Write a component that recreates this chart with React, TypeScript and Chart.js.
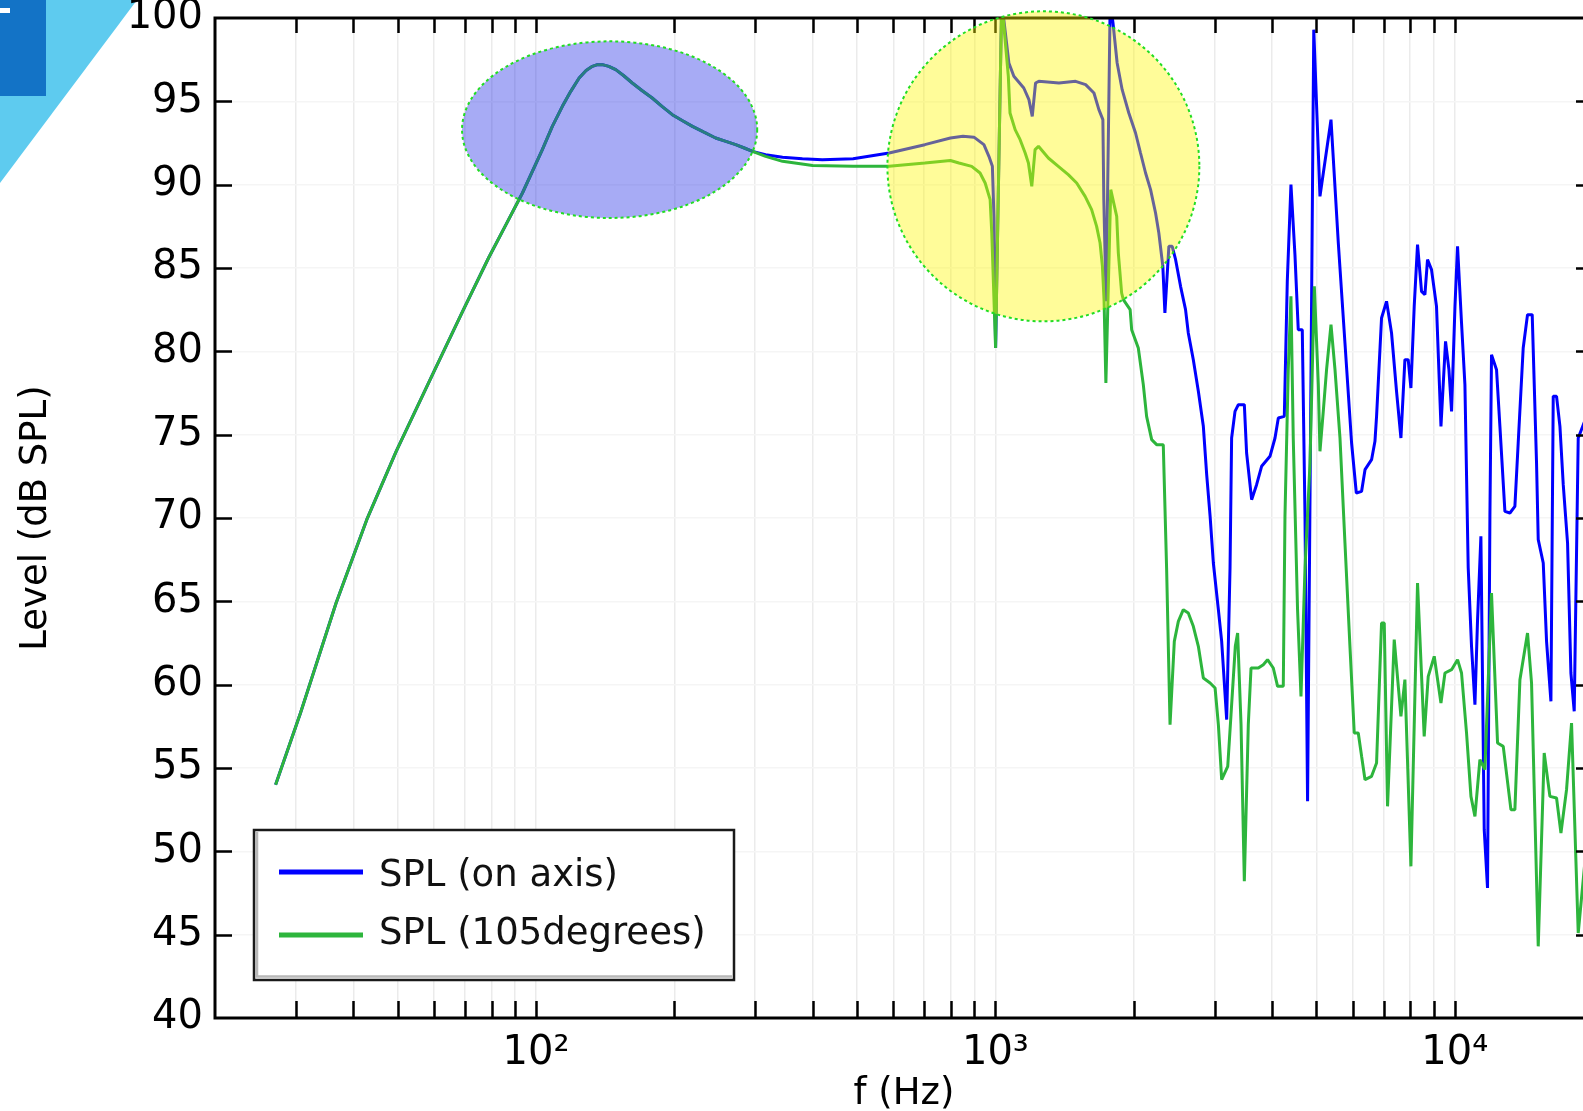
import { useEffect, useRef } from 'react';
import { Chart, registerables } from 'chart.js';

Chart.register(...registerables);

const FONT_FAMILY = '"DejaVu Sans", "Liberation Sans", sans-serif';
const CANVAS_W = 1610;
const CANVAS_H = 1130;

// Low-frequency roll-off and bass peak, shared by both measurement angles
const lowFreq = [27.1, 30.7, 36.7, 42.8, 49.6, 59.5, 69.2, 78.8, 86, 93.4, 103.2, 108.5, 114.1, 119, 124.1, 128.5, 132.6, 136, 139.5, 144, 149.1, 155, 162, 170, 179, 188, 198, 208, 219, 232, 246, 259, 272, 284, 296];
const lowSpl = [54.0, 58.3, 64.9, 69.9, 74.0, 78.6, 82.4, 85.6, 87.6, 89.5, 92.1, 93.5, 94.7, 95.6, 96.4, 96.85, 97.1, 97.2, 97.2, 97.1, 96.9, 96.55, 96.1, 95.65, 95.2, 94.7, 94.2, 93.85, 93.5, 93.15, 92.8, 92.6, 92.4, 92.2, 92.0];

// On-axis response above 300 Hz
const onAxisFreq = [316, 344, 380, 420, 490, 587, 702, 798, 850, 898, 944, 968, 985, 993, 1001, 1032, 1070, 1097, 1153, 1183, 1203, 1223, 1243, 1375, 1495, 1572, 1639, 1680, 1714, 1722, 1742, 1778, 1803, 1841, 1888, 1952, 2019, 2070, 2123, 2177, 2232, 2269, 2315, 2339, 2386, 2426, 2468, 2530, 2594, 2630, 2697, 2766, 2836, 2884, 2934, 2982, 3058, 3109, 3188, 3242, 3268, 3324, 3380, 3483, 3523, 3613, 3704, 3798, 3961, 4062, 4130, 4256, 4320, 4400, 4489, 4564, 4657, 4721, 4782, 4933, 5089, 5378, 5579, 5768, 5963, 6106, 6270, 6378, 6591, 6704, 6758, 6929, 7105, 7285, 7470, 7636, 7790, 7920, 8028, 8162, 8299, 8467, 8612, 8725, 8901, 9127, 9333, 9550, 9714, 9843, 10012, 10142, 10347, 10524, 10700, 10879, 11066, 11209, 11402, 11593, 11787, 11929, 12025, 12331, 12542, 12860, 13187, 13520, 13746, 14095, 14404, 14746, 15070, 15199, 15585, 15846, 16197, 16385, 16660, 16945, 17229, 17605, 17903, 18203, 18572, 19300, 20000];
const onAxisSpl = [91.8, 91.65, 91.55, 91.5, 91.55, 91.9, 92.4, 92.8, 92.9, 92.85, 92.4, 91.7, 91.1, 88.0, 80.2, 101, 97.3, 96.5, 95.8, 95.1, 94.1, 96.1, 96.2, 96.1, 96.2, 96.0, 95.5, 94.5, 93.9, 89.1, 83.0, 101, 99.7, 97.3, 95.7, 94.3, 93.1, 91.9, 90.7, 89.7, 88.3, 87.1, 85.1, 82.3, 86.3, 86.3, 85.5, 83.9, 82.5, 81.1, 79.5, 77.6, 75.5, 72.6, 70.1, 67.3, 64.5, 62.6, 57.9, 67.0, 74.8, 76.4, 76.8, 76.8, 73.9, 71.1, 72.0, 73.1, 73.7, 74.8, 76.0, 76.1, 84.2, 90.0, 85.8, 81.3, 81.3, 70.1, 53.0, 99.3, 89.3, 93.9, 86.5, 80.5, 74.5, 71.5, 71.6, 72.9, 73.5, 74.6, 76.1, 82.0, 83.0, 81.1, 77.6, 74.8, 79.5, 79.5, 77.8, 82.7, 86.4, 83.6, 83.4, 85.5, 84.9, 82.7, 75.5, 80.6, 78.9, 76.4, 82.7, 86.3, 81.7, 78.0, 67.0, 62.3, 58.8, 63.8, 68.9, 51.3, 47.8, 70.1, 79.8, 78.9, 75.5, 70.4, 70.3, 70.7, 74.5, 80.2, 82.2, 82.2, 73.3, 68.7, 67.3, 62.6, 59.0, 77.3, 77.3, 75.5, 72.0, 68.5, 60.7, 58.4, 74.8, 76.0, 70.0];

// 105 degree response above 300 Hz
const offAxisFreq = [316, 344, 400, 490, 587, 702, 798, 833, 888, 926, 950, 974, 982, 1001, 1032, 1067, 1076, 1104, 1132, 1161, 1180, 1200, 1220, 1241, 1304, 1371, 1441, 1503, 1568, 1620, 1661, 1690, 1710, 1724, 1740, 1783, 1837, 1852, 1883, 1899, 1965, 1980, 2047, 2099, 2134, 2189, 2244, 2320, 2359, 2400, 2452, 2502, 2565, 2630, 2697, 2766, 2836, 2934, 3008, 3058, 3109, 3205, 3258, 3329, 3368, 3426, 3483, 3553, 3602, 3736, 3830, 3913, 4027, 4115, 4234, 4270, 4341, 4400, 4451, 4548, 4627, 4721, 4841, 4947, 5047, 5089, 5174, 5260, 5378, 5487, 5626, 5768, 5914, 6043, 6166, 6270, 6378, 6591, 6758, 6929, 7024, 7141, 7384, 7636, 7790, 8028, 8299, 8581, 8756, 9024, 9333, 9522, 9843, 10142, 10347, 10610, 10847, 11066, 11345, 11632, 12025, 12394, 12753, 13254, 13520, 13865, 14404, 14697, 15199, 15660, 16114, 16660, 17031, 17516, 17961, 18572, 19300, 20000];
const offAxisSpl = [91.7, 91.4, 91.15, 91.1, 91.1, 91.3, 91.45, 91.3, 91.1, 90.7, 90.1, 89.1, 87.1, 80.2, 101, 96.5, 94.3, 93.3, 92.7, 91.9, 91.3, 89.9, 92.1, 92.3, 91.6, 91.1, 90.6, 90.1, 89.3, 88.5, 87.5, 86.5, 85.1, 83.1, 78.1, 89.7, 88.1, 85.9, 83.5, 83.1, 82.5, 81.3, 80.2, 78.0, 76.1, 74.7, 74.4, 74.4, 67.0, 57.6, 62.6, 63.8, 64.5, 64.3, 63.5, 62.3, 60.4, 60.1, 59.8, 57.6, 54.3, 55.1, 58.2, 62.3, 63.1, 57.6, 48.2, 57.6, 61.0, 61.0, 61.2, 61.5, 61.0, 59.9, 59.9, 70.1, 78.9, 83.3, 74.8, 64.5, 59.3, 67.0, 73.3, 83.9, 78.0, 74.0, 76.4, 78.9, 81.6, 78.9, 74.8, 68.5, 62.3, 57.1, 57.1, 55.7, 54.3, 54.5, 55.3, 63.7, 63.7, 52.7, 62.7, 58.1, 60.3, 49.1, 66.1, 56.9, 60.5, 61.7, 58.9, 60.7, 60.9, 61.5, 60.7, 57.1, 53.3, 52.1, 55.5, 54.9, 65.5, 56.5, 56.3, 52.5, 52.5, 60.3, 63.1, 60.1, 44.3, 55.9, 53.3, 53.2, 51.1, 53.7, 57.7, 45.1, 50.0, 52.0];

const seriesLabels = ['SPL (on axis)', 'SPL (105degrees)'];
const seriesColors = ['#0000ff', '#2db53c'];

// Log-axis tick positions (1..9 per decade) and decade labels
const xTickValues = [20, 30, 40, 50, 60, 70, 80, 90, 100, 200, 300, 400, 500, 600, 700, 800, 900, 1000, 2000, 3000, 4000, 5000, 6000, 7000, 8000, 9000, 10000, 20000];
const decadeLabels: Record<number, string> = { 100: '10²', 1000: '10³', 10000: '10⁴' };

const F_MIN = 20;
const F_MAX = 20000;
const DB_MIN = 40;
const DB_MAX = 100;
const DB_STEP = 5;

// Highlighted regions in data units: [fLow, fHigh, dbLow, dbHigh]
const bassRegion = [69, 303, 88.0, 98.6];
const breakupRegion = [582, 2780, 81.8, 100.4];

type Pt = { x: number; y: number };
const toPoints = (fs: number[], vs: number[]): Pt[] =>
  fs.slice(0, Math.min(fs.length, vs.length)).map((f, i) => ({ x: f, y: vs[i] }));

const onAxisPoints = [...toPoints(lowFreq, lowSpl), ...toPoints(onAxisFreq, onAxisSpl)];
const offAxisPoints = [...toPoints(lowFreq, lowSpl), ...toPoints(offAxisFreq, offAxisSpl)];

// Corner badge in the top-left of the canvas
const cornerBadge = {
  id: 'cornerBadge',
  beforeDraw(chart: any) {
    const ctx = chart.ctx;
    ctx.save();
    ctx.fillStyle = '#5ecbef';
    ctx.beginPath();
    ctx.moveTo(0, 0);
    ctx.lineTo(137, 0);
    ctx.lineTo(0, 183);
    ctx.closePath();
    ctx.fill();
    ctx.fillStyle = '#1373c6';
    ctx.fillRect(0, 0, 46, 96);
    ctx.fillStyle = '#ffffff';
    ctx.fillRect(0, 8, 10, 5);
    ctx.restore();
  },
};

// Frame, inward ticks, highlighted regions and the boxed legend
const overlays = {
  id: 'overlays',
  afterDatasetsDraw(chart: any) {
    const ctx = chart.ctx;
    const { left, right, top, bottom } = chart.chartArea;
    const xs = chart.scales.x;
    const ys = chart.scales.y;
    ctx.save();

    // plot frame
    ctx.strokeStyle = '#000';
    ctx.lineWidth = 3;
    ctx.strokeRect(left, top, right - left, bottom - top);

    // inward ticks on all four sides
    ctx.lineWidth = 2.5;
    ctx.beginPath();
    xTickValues.forEach((v) => {
      if (v <= F_MIN || v >= F_MAX) return;
      const px = Math.round(xs.getPixelForValue(v)) + 0.5;
      ctx.moveTo(px, bottom);
      ctx.lineTo(px, bottom - 17);
      ctx.moveTo(px, top);
      ctx.lineTo(px, top + 15);
    });
    for (let v = DB_MIN + DB_STEP; v < DB_MAX; v += DB_STEP) {
      const py = Math.round(ys.getPixelForValue(v)) + 0.5;
      ctx.moveTo(left, py);
      ctx.lineTo(left + 17, py);
      ctx.moveTo(right, py);
      ctx.lineTo(right - 17, py);
    }
    ctx.stroke();

    // highlighted regions
    const drawRegion = (r: number[], fill: string) => {
      const x1 = xs.getPixelForValue(r[0]);
      const x2 = xs.getPixelForValue(r[1]);
      const y1 = ys.getPixelForValue(r[3]);
      const y2 = ys.getPixelForValue(r[2]);
      ctx.beginPath();
      ctx.ellipse((x1 + x2) / 2, (y1 + y2) / 2, (x2 - x1) / 2, (y2 - y1) / 2, 0, 0, Math.PI * 2);
      ctx.fillStyle = fill;
      ctx.fill();
      ctx.setLineDash([3, 3]);
      ctx.strokeStyle = '#22dd22';
      ctx.lineWidth = 2;
      ctx.stroke();
      ctx.setLineDash([]);
    };
    drawRegion(bassRegion, 'rgba(35, 45, 230, 0.4)');
    drawRegion(breakupRegion, 'rgba(255, 248, 0, 0.4)');

    // legend box
    const bx = left + 39;
    const by = bottom - 188;
    const bw = 480;
    const bh = 150;
    ctx.fillStyle = '#fff';
    ctx.fillRect(bx, by, bw, bh);
    ctx.strokeStyle = '#b8b8b8';
    ctx.lineWidth = 2.5;
    ctx.beginPath();
    ctx.moveTo(bx + 3, by + 2);
    ctx.lineTo(bx + 3, by + bh - 3.5);
    ctx.lineTo(bx + bw - 2, by + bh - 3.5);
    ctx.stroke();
    ctx.strokeStyle = '#1a1a1a';
    ctx.lineWidth = 2.5;
    ctx.strokeRect(bx, by, bw, bh);

    const rowY = [by + 42, by + 105];
    const textY = [by + 46, by + 104];
    chart.data.datasets.forEach((ds: any, i: number) => {
      ctx.strokeStyle = ds.borderColor;
      ctx.lineWidth = 5;
      ctx.beginPath();
      ctx.moveTo(bx + 25, rowY[i]);
      ctx.lineTo(bx + 109, rowY[i]);
      ctx.stroke();
      ctx.fillStyle = '#111';
      ctx.font = `37px ${FONT_FAMILY}`;
      ctx.textAlign = 'left';
      ctx.textBaseline = 'middle';
      ctx.fillText(ds.label, bx + 125, textY[i]);
    });

    ctx.restore();
  },
};

export default function App() {
  const canvasRef = useRef<HTMLCanvasElement>(null);

  useEffect(() => {
    const canvas = canvasRef.current;
    if (!canvas) return;
    const chart = new Chart(canvas, {
      type: 'line',
      data: {
        datasets: [
          {
            label: seriesLabels[0],
            data: onAxisPoints,
            borderColor: seriesColors[0],
            backgroundColor: seriesColors[0],
            borderWidth: 3,
            borderJoinStyle: 'bevel',
            pointRadius: 0,
            tension: 0,
            order: 1,
          },
          {
            label: seriesLabels[1],
            data: offAxisPoints,
            borderColor: seriesColors[1],
            backgroundColor: seriesColors[1],
            borderWidth: 3,
            borderJoinStyle: 'bevel',
            pointRadius: 0,
            tension: 0,
            order: 0,
          },
        ],
      },
      options: {
        responsive: false,
        animation: false,
        devicePixelRatio: 1,
        layout: { padding: { left: 0, top: 18, right: 17, bottom: 0 } },
        plugins: {
          legend: { display: false },
          tooltip: { enabled: false },
        },
        scales: {
          x: {
            type: 'logarithmic',
            position: 'bottom',
            min: F_MIN,
            max: F_MAX,
            afterBuildTicks: (axis: any) => {
              axis.ticks = xTickValues.map((v) => ({ value: v }));
            },
            afterFit: (s: any) => {
              s.height = 112;
              s.paddingLeft = 0;
              s.paddingRight = 0;
            },
            grid: { color: '#ebebeb', lineWidth: 1.5, drawTicks: false },
            border: { display: false },
            ticks: {
              autoSkip: false,
              maxRotation: 0,
              minRotation: 0,
              padding: 12,
              color: '#000',
              font: { family: FONT_FAMILY, size: 40 },
              callback: (v: any) => decadeLabels[Number(v)] ?? '',
            },
            title: {
              display: true,
              text: 'f (Hz)',
              color: '#000',
              font: { family: FONT_FAMILY, size: 37, lineHeight: 1 },
              padding: { top: 0, bottom: 17 },
            },
          },
          y: {
            type: 'linear',
            position: 'left',
            min: DB_MIN,
            max: DB_MAX,
            afterFit: (s: any) => {
              s.width = 215;
              s.paddingTop = 0;
              s.paddingBottom = 0;
            },
            grid: { color: '#f5f5f5', lineWidth: 1.5, drawTicks: false },
            border: { display: false },
            ticks: {
              stepSize: DB_STEP,
              padding: 12,
              color: '#000',
              font: { family: FONT_FAMILY, size: 40 },
              callback: (v: any) => String(v),
            },
            title: {
              display: true,
              text: 'Level (dB SPL)',
              color: '#000',
              font: { family: FONT_FAMILY, size: 37, lineHeight: 1 },
              padding: { top: 17.5, bottom: 0 },
            },
          },
        },
      },
      plugins: [cornerBadge, overlays],
    } as any);
    return () => chart.destroy();
  }, []);

  return (
    <div
      style={{
        position: 'fixed',
        left: 0,
        top: 0,
        width: 1583,
        height: 1111,
        overflow: 'hidden',
        background: '#fff',
      }}
    >
      <canvas
        ref={canvasRef}
        width={CANVAS_W}
        height={CANVAS_H}
        style={{ display: 'block', width: CANVAS_W, height: CANVAS_H }}
      />
    </div>
  );
}
